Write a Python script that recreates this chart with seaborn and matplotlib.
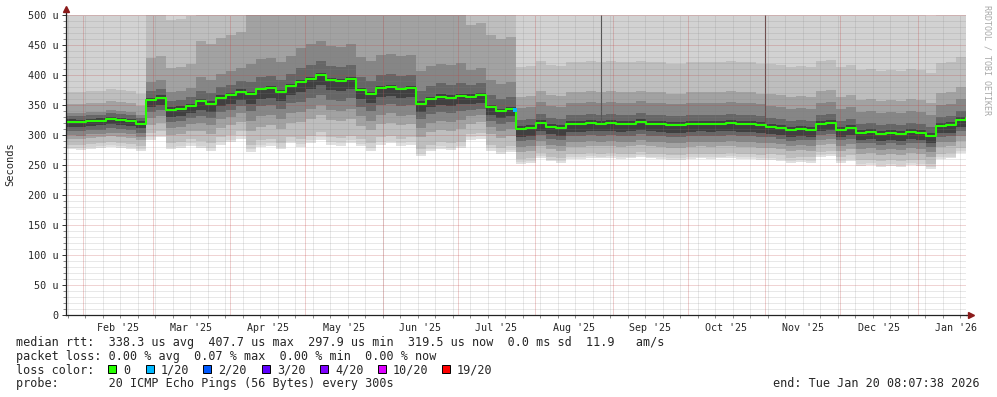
import numpy as np
import pandas as pd
import matplotlib
matplotlib.use("Agg")
import matplotlib.pyplot as plt
from matplotlib.patches import Rectangle
import seaborn as sns

# ---------------- data ----------------
START = "2025-01-25 08:07:38"
END = "2026-01-20 08:07:38"

# median RTT (microseconds), one value every 4 days from START
median_rtt = [322, 321, 323, 324, 326, 325, 323, 319,
              358, 362, 342, 344, 348, 356, 352, 362, 366, 372, 368, 376,
              378, 372, 382, 388, 394, 400, 392, 390, 394, 375, 368, 378,
              380, 376, 378, 352, 360, 364, 362, 365, 364, 366, 346, 340, 343,
              310, 312, 320, 314, 312, 318, 318, 320, 319, 320, 318, 319, 321,
              319, 318, 316, 316, 318, 319, 318, 319, 320, 318, 318, 316, 314,
              312, 308, 310, 309, 318, 320, 309, 312, 304, 305, 302, 304, 302,
              305, 304, 298, 315, 316, 325, 328]

# smoke (spread of the 20 pings) per period: distance below / above the median (us)
seg_start = ["2025-01-25 08:07", "2025-02-26 08:07", "2025-03-18 08:07",
             "2025-04-07 08:07", "2025-04-27 08:07", "2025-05-21 08:07",
             "2025-06-14 08:07", "2025-07-04 08:07", "2025-07-24 08:07",
             "2025-11-01 08:07"]
below_min = [46, 66, 78, 96, 108, 94, 87, 72, 58, 55]
below_p05 = [43, 62, 74, 92, 103, 90, 83, 68, 55, 52]
below_p15 = [38, 55, 66, 85, 95, 82, 76, 62, 50, 46]
below_p25 = [28, 42, 50, 62, 67, 60, 55, 45, 38, 35]
below_p35 = [22, 30, 36, 45, 50, 44, 40, 33, 30, 27]
below_p45 = [15, 20, 24, 28, 33, 28, 25, 22, 20, 18]
below_core = [8, 12, 14, 16, 17, 15, 14, 12, 13, 12]
above_core = [4, 4, 4, 3, 3, 3, 4, 4, 5, 5]
above_p55 = [10, 15, 18, 20, 23, 22, 22, 20, 15, 15]
above_p65 = [15, 30, 40, 50, 57, 55, 55, 45, 35, 35]
above_p75 = [30, 70, 100, 140, 150, 150, 150, 120, 53, 55]
above_p85 = [50, 150, 170, 180, 180, 180, 180, 170, 103, 105]
above_p95 = [200, 200, 200, 200, 200, 200, 200, 200, 200, 200]
above_max = [240, 240, 240, 240, 240, 240, 240, 240, 240, 240]

# isolated high-latency spikes (start rtt, top rtt)
spike_dates = ["2025-08-27 12:00", "2025-11-01 00:00"]
spike_low = [320, 318]
spike_high = [500, 500]

# loss event (1/20)
loss_dates = ["2025-07-23 20:00"]
loss_rtt = [342]

loss_names = ["0", "1/20", "2/20", "3/20", "4/20", "10/20", "19/20"]
loss_colors = ["#26ff00", "#00b8ff", "#0059ff", "#5e00ff", "#7e00ff", "#dd00ff", "#ff0000"]

ytick_vals = [0, 50, 100, 150, 200, 250, 300, 350, 400, 450, 500]
ytick_labels = ["0", "50 u", "100 u", "150 u", "200 u", "250 u", "300 u",
                "350 u", "400 u", "450 u", "500 u"]

stats_rtt = "median rtt:  338.3 us avg  407.7 us max  297.9 us min  319.5 us now  0.0 ms sd  11.9   am/s"
stats_loss = "packet loss: 0.00 % avg  0.07 % max  0.00 % min  0.00 % now"
probe_txt = "probe:       20 ICMP Echo Pings (56 Bytes) every 300s"
end_txt = "end: Tue Jan 20 08:07:38 2026"

# ---------------- plot ----------------
sns.set_theme(style="white")
plt.rcParams["font.family"] = ["DejaVu Sans Mono"]

W, H = 997, 397
fig = plt.figure(figsize=(W / 100, H / 100), dpi=100)
fig.patch.set_facecolor("white")
ax = fig.add_axes([66 / W, (H - 315) / H, 900 / W, 300 / H])
ax.set_facecolor("white")

t0, t1 = pd.Timestamp(START), pd.Timestamp(END)
dates = pd.date_range(t0, periods=len(median_rtt), freq="4D")
med = np.array(median_rtt, dtype=float)

s_starts = pd.to_datetime(seg_start)
seg_idx = np.clip(np.searchsorted(s_starts.values, dates.values, side="right") - 1, 0, None)

bands = [
    (below_min, above_max, "#e0e0e0"),
    (below_p05, above_p95, "#d2d2d2"),
    (below_p15, above_p85, "#bebebe"),
    (below_p25, above_p75, "#a2a2a2"),
    (below_p35, above_p65, "#868686"),
    (below_p45, above_p55, "#666666"),
    (below_core, above_core, "#404040"),
]
for lo, hi, col in bands:
    lo_v = med - np.array(lo)[seg_idx]
    hi_v = med + np.array(hi)[seg_idx]
    ax.fill_between(dates, lo_v, hi_v, step="post", color=col, linewidth=0, zorder=1)

ax.vlines(pd.to_datetime(spike_dates), spike_low, spike_high, color="#555555",
          linewidth=0.8, zorder=1.5)

sns.lineplot(x=dates, y=med, ax=ax, drawstyle="steps-post", color="#26ff00",
             linewidth=1.5, zorder=3)
ax.scatter(pd.to_datetime(loss_dates), loss_rtt, marker="s", s=5, color="#00b8ff",
           linewidths=0, zorder=3.5)
ax.set_xlabel("")
ax.set_ylabel("")

# grid (drawn over smoke)
dot = (0, (1, 1))
for v in range(10, 501, 10):
    if v % 50 == 0:
        ax.axhline(v, color="#c04040", alpha=0.45, lw=0.72, ls=dot, zorder=2.5)
    else:
        ax.axhline(v, color="#808080", alpha=0.35, lw=0.72, ls=dot, zorder=2.5)
weeks = pd.date_range("2025-01-26", t1, freq="W-SUN")
months = pd.date_range("2025-02-01", t1, freq="MS")
for d in weeks:
    ax.axvline(d, color="#808080", alpha=0.35, lw=0.72, ls=dot, zorder=2.5)
for d in months:
    ax.axvline(d, color="#c04040", alpha=0.5, lw=0.72, ls=dot, zorder=2.5)

ax.set_xlim(t0, t1)
ax.set_ylim(0, 500)

# y ticks
ax.set_yticks(ytick_vals)
ax.set_yticklabels(ytick_labels)
ax.set_yticks(range(0, 501, 10), minor=True)
ax.tick_params(axis="y", which="major", direction="out", length=3, width=0.7,
               color="#333333", pad=2.5, labelsize=7.3, left=True)
ax.tick_params(axis="y", which="minor", direction="out", length=2, width=0.6,
               color="#777777", left=True)

# x ticks: labels centred on mid-month
m_all = pd.date_range("2025-02-01", "2026-02-01", freq="MS")
mids = [m_all[i] + (m_all[i + 1] - m_all[i]) / 2 for i in range(len(m_all) - 1)]
ax.set_xticks(mids)
ax.set_xticklabels([m.strftime("%b '%y") for m in mids])
ax.set_xticks(list(weeks), minor=True)
ax.tick_params(axis="x", which="major", length=0, pad=5.5, labelsize=7.2)
ax.tick_params(axis="x", which="minor", direction="out", length=2, width=0.6,
               color="#777777", bottom=True)

for s in ["top", "right"]:
    ax.spines[s].set_visible(False)
for s in ["left", "bottom"]:
    ax.spines[s].set_color("#222222")
    ax.spines[s].set_linewidth(0.9)
    ax.spines[s].set_zorder(4)

# axis arrows
ax.plot([0, 0], [1.0, 1.017], transform=ax.transAxes, color="#222222", lw=0.9, clip_on=False)
ax.plot([0], [1.02], marker="^", transform=ax.transAxes, color="#8b1a1a",
        markersize=4, clip_on=False, zorder=5)
ax.plot([1.0, 1.004], [0, 0], transform=ax.transAxes, color="#222222", lw=0.9, clip_on=False)
ax.plot([1.006], [0], marker=">", transform=ax.transAxes, color="#8b1a1a",
        markersize=4, clip_on=False, zorder=5)

# labels
fig.text(10 / W, 1 - 164 / H, "Seconds", rotation=90, ha="center", va="center", fontsize=7.5)
fig.text(987 / W, 1 - 60 / H, "RRDTOOL / TOBI OETIKER", rotation=270, ha="center",
         va="center", fontsize=6, color="#a8a8a8")

fs = 8.45
fig.text(16 / W, 1 - 346 / H, stats_rtt, fontsize=fs, va="baseline")
fig.text(16 / W, 1 - 360 / H, stats_loss, fontsize=fs, va="baseline")
fig.text(16 / W, 1 - 373.5 / H, "loss color:", fontsize=fs, va="baseline")
sq_x = [108, 146, 203, 262, 320, 378, 442]
for x, name, col in zip(sq_x, loss_names, loss_colors):
    fig.patches.append(Rectangle((x / W, 1 - 373 / H), 8 / W, 8 / H, transform=fig.transFigure,
                                 facecolor=col, edgecolor="black", linewidth=0.7))
    fig.text((x + 15) / W, 1 - 373.5 / H, name, fontsize=fs, va="baseline")
fig.text(16 / W, 1 - 387 / H, probe_txt, fontsize=fs, va="baseline")
fig.text(980 / W, 1 - 387 / H, end_txt, fontsize=fs, va="baseline", ha="right")

fig.savefig("out.png", dpi=100)
